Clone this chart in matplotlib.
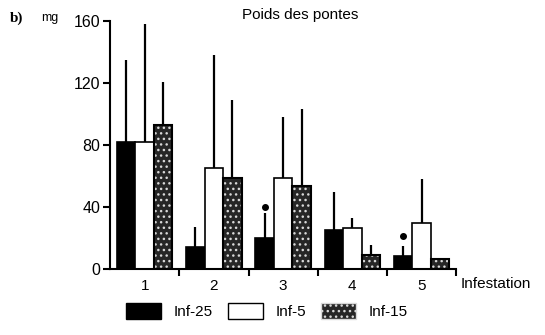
import matplotlib.pyplot as plt
from matplotlib.patches import Patch
import numpy as np

plt.rcParams['font.family'] = ['Liberation Sans', 'DejaVu Sans']

# Egg-laying weight (mg) per infestation for each group
infestations = ['1', '2', '3', '4', '5']
inf25 = [82, 14, 20, 25, 8.5]
inf5 = [82, 65, 59, 26.5, 30]
inf15 = [93, 59, 53.5, 9, 6.5]
inf25_err = [53, 13, 16, 25, 6.5]
inf5_err = [76, 73, 39, 6.5, 28]
inf15_err = [28, 50, 50, 6.5, 0]
# significance dots above the Inf-25 bars
sig_groups = [3, 5]
sig_y = [40, 21]

fig = plt.figure(figsize=(5.45, 3.35), dpi=100)
ax = fig.add_axes([0.202, 0.197, 0.635, 0.740])

x = np.arange(1, 6)
w = 0.267

ax.bar(x - w, inf25, w, color='black', edgecolor='black', lw=1.2)
ax.bar(x, inf5, w, color='white', edgecolor='black', lw=1.2)
# speckled fill, then the outline on top
ax.bar(x + w, inf15, w, color='#262626', edgecolor='#d8d8d8', hatch='...', lw=0)
ax.bar(x + w, inf15, w, color='none', edgecolor='black', lw=1.5)

for off, vals, errs in [(-w, inf25, inf25_err), (0, inf5, inf5_err), (w, inf15, inf15_err)]:
    for xi, v, e in zip(x + off, vals, errs):
        if e > 0:
            ax.plot([xi, xi], [v, v + e], color='black', lw=1.6, solid_capstyle='butt')

ax.plot(np.array(sig_groups) - w, sig_y, 'o', color='black', ms=4)

ax.set_xlim(0.5, 5.5)
ax.set_ylim(0, 160)
ax.set_yticks([0, 40, 80, 120, 160])
ax.set_xticks(x)
ax.set_xticklabels(infestations)
ax.set_xticks(np.arange(1.5, 6, 1), minor=True)
ax.tick_params(axis='x', which='major', length=0, pad=7, labelsize=11)
ax.tick_params(axis='x', which='minor', length=5, width=1.5, direction='out')
ax.tick_params(axis='y', length=5, width=1.5, direction='out', labelsize=11.5, pad=2)
for s in ['top', 'right']:
    ax.spines[s].set_visible(False)
for s in ['left', 'bottom']:
    ax.spines[s].set_linewidth(1.5)

fig.text(0.55, 0.955, 'Poids des pontes', ha='center', va='center', fontsize=11)
fig.text(0.018, 0.945, 'b)', ha='left', va='center', fontsize=11, fontweight='bold',
         family='Liberation Serif')
fig.text(0.075, 0.945, 'mg', ha='left', va='center', fontsize=9)
fig.text(0.845, 0.152, 'Infestation', ha='left', va='center', fontsize=11)

handles = [
    Patch(facecolor='black', edgecolor='black', label='Inf-25'),
    Patch(facecolor='white', edgecolor='black', label='Inf-5'),
    Patch(facecolor='#262626', edgecolor='#d8d8d8', hatch='...', label='Inf-15'),
]
fig.legend(handles=handles, loc='center', bbox_to_anchor=(0.49, 0.072), ncol=3,
           frameon=False, fontsize=11, handlelength=2.3, handleheight=1.3,
           columnspacing=1.0, handletextpad=0.8)

fig.savefig('out.png', dpi=100)
